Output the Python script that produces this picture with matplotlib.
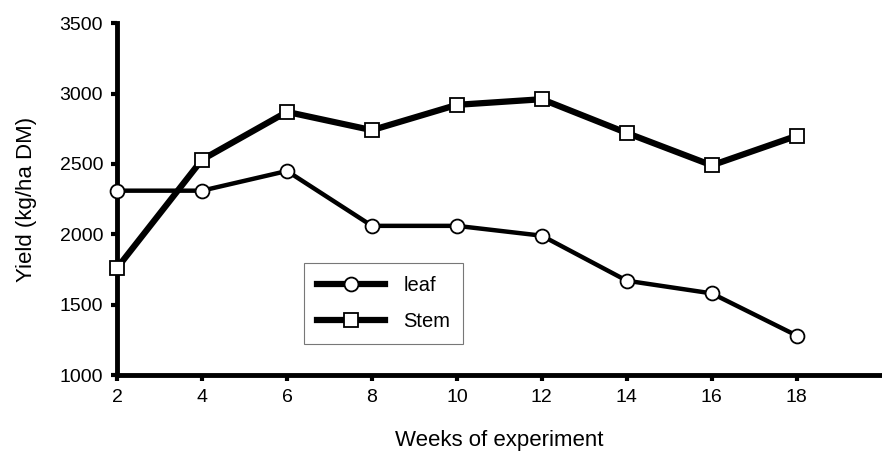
import matplotlib
matplotlib.use("Agg")
import matplotlib.pyplot as plt

plt.rcParams['font.family'] = ['Liberation Sans', 'DejaVu Sans']

weeks = [2, 4, 6, 8, 10, 12, 14, 16, 18]
leaf = [2310, 2310, 2450, 2060, 2060, 1990, 1670, 1580, 1280]
stem = [1760, 2530, 2870, 2740, 2920, 2960, 2720, 2490, 2700]

fig = plt.figure(figsize=(8.82, 4.51), dpi=100)
ax = fig.add_axes([0.1327, 0.1685, 0.867, 0.78])

ax.plot(weeks, leaf, 'k-', lw=3.2, marker='o', ms=10, mfc='white', mec='black', mew=1.3, label='leaf', clip_on=False, zorder=3)
ax.plot(weeks, stem, 'k-', lw=4.5, marker='s', ms=10, mfc='white', mec='black', mew=1.3, label='Stem', clip_on=False, zorder=3)

ax.set_xlim(2, 20)
ax.set_ylim(1000, 3500)
ax.set_xticks(weeks)
ax.set_yticks([1000, 1500, 2000, 2500, 3000, 3500])

for s in ['top', 'right']:
    ax.spines[s].set_visible(False)
for s in ['left', 'bottom']:
    ax.spines[s].set_linewidth(3.5)
ax.tick_params(axis='both', direction='out', width=3, length=4, labelsize=14, pad=6)

ax.set_xlabel('Weeks of experiment', fontsize=16, labelpad=17)
ax.set_ylabel('Yield (kg/ha DM)', fontsize=16, labelpad=16)

leg = ax.legend(loc='upper left', bbox_to_anchor=(0.244, 0.318), frameon=True, fancybox=False,
                edgecolor='#555555', fontsize=14.5, handlelength=3.4, borderpad=0.65, labelspacing=0.85,
                handletextpad=0.9, borderaxespad=0)
leg.get_frame().set_linewidth(0.8)
for h in leg.get_lines():
    h.set_linewidth(4.5)

fig.savefig('out.png', dpi=100)
